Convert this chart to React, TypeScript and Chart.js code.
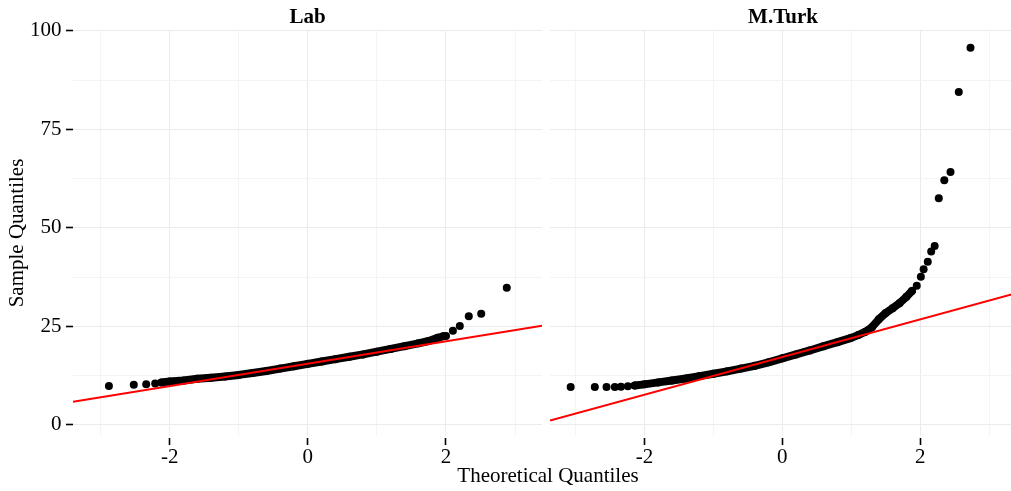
import React, { useEffect, useRef } from "react";
import { Chart, registerables } from "chart.js";

Chart.register(...registerables);

const FONT = "'Liberation Serif', 'Times New Roman', serif";

// Axis ticks
const yTicks = [0, 12.5, 25, 37.5, 50, 62.5, 75, 87.5, 100];
const yTickLabels = ["0", "", "25", "", "50", "", "75", "", "100"];
const xTicks = [-3, -2, -1, 0, 1, 2, 3];
const xTickLabels = ["", "-2", "", "0", "", "2", ""];

// Panel titles
const panelTitles = ["Lab", "M.Turk"];

// ---- Lab panel ----
const labBandX = [-2.12, -2.0, -1.8, -1.6, -1.4, -1.2, -1.0, -0.8, -0.6, -0.4, -0.2, 0.0, 0.2, 0.4, 0.6, 0.8, 1.0, 1.2, 1.4, 1.6, 1.75, 1.88, 1.96];
const labBandY = [10.8, 11.0, 11.3, 11.7, 12.0, 12.3, 12.7, 13.2, 13.7, 14.3, 14.9, 15.5, 16.1, 16.7, 17.3, 17.9, 18.6, 19.3, 20.0, 20.7, 21.3, 22.1, 22.5];
const labLowX = [-2.88, -2.52, -2.34, -2.21];
const labLowY = [9.9, 10.2, 10.3, 10.5];
const labHighX = [2.0, 2.1, 2.2, 2.33, 2.51, 2.88];
const labHighY = [22.6, 23.9, 25.1, 27.6, 28.2, 34.8];
const labLineX = [-3.4, 3.39];
const labLineY = [5.9, 25.2];

// ---- M.Turk panel ----
const turkBandX = [-2.14, -2.0, -1.8, -1.6, -1.4, -1.2, -1.0, -0.8, -0.6, -0.4, -0.2, 0.0, 0.2, 0.4, 0.6, 0.8, 1.0, 1.1, 1.2, 1.3, 1.4, 1.5, 1.6, 1.7, 1.8, 1.88];
const turkBandY = [10.0, 10.3, 10.8, 11.3, 11.8, 12.4, 13.0, 13.6, 14.3, 15.0, 15.9, 16.9, 17.9, 18.9, 20.0, 21.0, 22.1, 22.8, 23.6, 24.8, 26.8, 28.4, 29.6, 30.9, 32.5, 34.0];
const turkLowX = [-3.07, -2.72, -2.55, -2.43, -2.34, -2.24];
const turkLowY = [9.6, 9.6, 9.6, 9.6, 9.7, 9.8];
const turkHighX = [1.95, 2.01, 2.05, 2.11, 2.16, 2.21, 2.27, 2.35, 2.44, 2.56, 2.73];
const turkHighY = [35.3, 37.6, 39.5, 41.4, 44.0, 45.4, 57.5, 62.1, 64.2, 84.5, 95.7];
const turkLineX = [-3.37, 3.39];
const turkLineY = [1.1, 33.4];

const Y_MIN = -2.8;
const Y_MAX = 100.2;
const labXRange = [-3.4, 3.39];
const turkXRange = [-3.37, 3.39];

const pts = (xs: number[], ys: number[]) => xs.map((x, i) => ({ x, y: ys[i] }));

const MAJOR = "#ebebeb";
const MINOR = "#f4f4f4";
const R = 4;

function buildConfig(opts: {
  title: string;
  xRange: number[];
  left: boolean;
  band: { x: number; y: number }[];
  low: { x: number; y: number }[];
  high: { x: number; y: number }[];
  line: { x: number; y: number }[];
}): any {
  const isMajorY = (v: number) => yTickLabels[yTicks.indexOf(v)] !== "";
  const isMajorX = (v: number) => xTickLabels[xTicks.indexOf(v)] !== "";
  return {
    type: "scatter",
    data: {
      datasets: [
        {
          data: opts.line,
          showLine: true,
          borderColor: "#ff0000",
          borderWidth: 2,
          pointRadius: 0,
          fill: false,
        },
        {
          data: opts.band,
          showLine: true,
          borderColor: "#000000",
          borderWidth: R * 2,
          borderCapStyle: "round",
          borderJoinStyle: "round",
          backgroundColor: "#000000",
          pointRadius: R,
          pointBorderWidth: 0,
        },
        {
          data: opts.low,
          backgroundColor: "#000000",
          pointRadius: R,
          pointBorderWidth: 0,
        },
        {
          data: opts.high,
          backgroundColor: "#000000",
          pointRadius: R,
          pointBorderWidth: 0,
        },
      ],
    },
    options: {
      animation: false,
      responsive: false,
      events: [],
      layout: { padding: { left: 0, right: opts.left ? 3 : 0, top: 0, bottom: 0 } },
      plugins: {
        legend: { display: false },
        tooltip: { enabled: false },
        title: {
          display: true,
          text: opts.title,
          fullSize: false,
          color: "#000",
          font: { family: FONT, size: 21, weight: "bold", lineHeight: 1.2 },
          padding: { top: 4.6, bottom: 0.2 },
        },
      },
      scales: {
        x: {
          type: "linear",
          min: opts.xRange[0],
          max: opts.xRange[1],
          afterBuildTicks: (s: any) => {
            s.ticks = xTicks.map((v) => ({ value: v }));
          },
          afterFit: (s: any) => {
            s.height = 55;
          },
          border: { display: false },
          grid: {
            color: (c: any) => (c.tick && isMajorX(c.tick.value) ? MAJOR : MINOR),
            lineWidth: 1,
            drawTicks: true,
            tickLength: 9,
            tickWidth: 1.6,
            tickColor: (c: any) => (c.tick && isMajorX(c.tick.value) ? "#000" : "rgba(0,0,0,0)"),
            tickBorderDash: [0, 2, 7, 20],
          },
          ticks: {
            autoSkip: false,
            maxRotation: 0,
            padding: 0,
            color: "#000",
            font: { family: FONT, size: 21, lineHeight: 1.2 },
            callback: (v: number) => xTickLabels[xTicks.indexOf(v)] ?? "",
          },
        },
        y: {
          type: "linear",
          min: Y_MIN,
          max: Y_MAX,
          afterBuildTicks: (s: any) => {
            s.ticks = yTicks.map((v) => ({ value: v }));
          },
          afterFit: (s: any) => {
            s.width = opts.left ? 73 : 4;
          },
          border: { display: false },
          title: opts.left
            ? {
                display: true,
                text: "Sample Quantiles",
                color: "#000",
                font: { family: FONT, size: 21, lineHeight: 1.2 },
                padding: { top: 5, bottom: 0 },
              }
            : { display: false },
          grid: {
            color: (c: any) => (c.tick && isMajorY(c.tick.value) ? MAJOR : MINOR),
            lineWidth: 1,
            drawTicks: opts.left,
            tickLength: 7,
            tickWidth: 1.6,
            tickColor: (c: any) => (c.tick && isMajorY(c.tick.value) ? "#000" : "rgba(0,0,0,0)"),
          },
          ticks: {
            display: opts.left,
            autoSkip: false,
            padding: 4.5,
            color: "#000",
            font: { family: FONT, size: 21, lineHeight: 1.2 },
            callback: (v: number) => yTickLabels[yTicks.indexOf(v)] ?? "",
          },
        },
      },
    },
  };
}

export default function App() {
  const leftRef = useRef<HTMLCanvasElement>(null);
  const rightRef = useRef<HTMLCanvasElement>(null);

  useEffect(() => {
    const c1 = new Chart(
      leftRef.current as HTMLCanvasElement,
      buildConfig({
        title: panelTitles[0],
        xRange: labXRange,
        left: true,
        band: pts(labBandX, labBandY),
        low: pts(labLowX, labLowY),
        high: pts(labHighX, labHighY),
        line: pts(labLineX, labLineY),
      })
    );
    const c2 = new Chart(
      rightRef.current as HTMLCanvasElement,
      buildConfig({
        title: panelTitles[1],
        xRange: turkXRange,
        left: false,
        band: pts(turkBandX, turkBandY),
        low: pts(turkLowX, turkLowY),
        high: pts(turkHighX, turkHighY),
        line: pts(turkLineX, turkLineY),
      })
    );
    return () => {
      c1.destroy();
      c2.destroy();
    };
  }, []);

  return (
    <div
      style={{
        position: "absolute",
        left: 0,
        top: 0,
        width: 1011,
        height: 491,
        overflow: "hidden",
        background: "#fff",
      }}
    >
      <canvas
        ref={leftRef}
        width={546}
        height={491}
        style={{ position: "absolute", left: 0, top: 0, width: 546, height: 491 }}
      />
      <canvas
        ref={rightRef}
        width={474}
        height={491}
        style={{ position: "absolute", left: 546, top: 0, width: 474, height: 491 }}
      />
      <div
        style={{
          position: "absolute",
          left: 348,
          top: 463,
          width: 400,
          textAlign: "center",
          fontFamily: FONT,
          fontSize: 21,
          lineHeight: "25px",
          color: "#000",
          whiteSpace: "nowrap",
        }}
      >
        Theoretical Quantiles
      </div>
    </div>
  );
}
